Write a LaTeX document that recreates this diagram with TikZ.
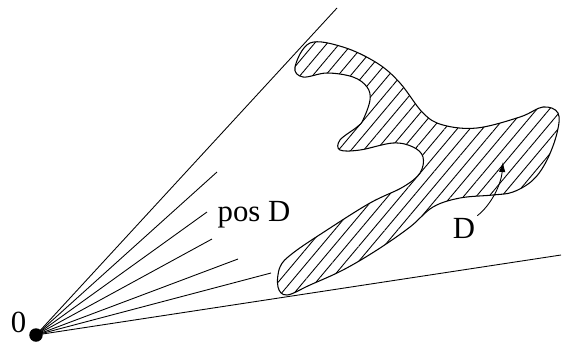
\documentclass[tikz,border=0pt]{standalone}
\usepackage{fontspec}
\setmainfont{Liberation Serif}
\usetikzlibrary{patterns.meta,arrows.meta}

\begin{document}
\begin{tikzpicture}[line width=0.5pt,
    lab/.style={font=\fontsize{17.5}{20}\selectfont, inner sep=1pt}]
    \useasboundingbox (-0.72,-0.16) rectangle (10.54,6.7);

    % Origin
    \coordinate (O) at (0,0);
    \fill (O) circle (0.135);
    \node[lab] (zero) at (-0.35,0.26) {0};

    % Cone boundary
    \coordinate (top) at (6.02,6.54);
    \coordinate (bot) at (10.5,1.6);
    \draw (O) -- (top);
    \draw (O) -- (bot);

    % Rays inside the cone
    \foreach \x/\y in {3.62/3.26, 3.42/2.46, 3.52/1.92, 4.04/1.52, 4.70/1.24}
        \draw (O) -- (\x,\y);

    % Domain D
    \draw[line width=0.6pt, pattern={Lines[angle=50,distance=5.5pt,line width=0.5pt]}]
        plot[smooth cycle, tension=0.6] coordinates {
        (5.18,5.36) (5.48,5.84) (6.14,5.76) (6.82,5.44) (7.28,5.04)
        (7.74,4.44) (8.14,4.2) (8.82,4.14) (9.68,4.36) (10.14,4.56)
        (10.44,4.44) (10.42,4.04) (10.22,3.5) (9.94,3.1) (9.54,2.86)
        (9.14,2.8) (8.48,2.74) (7.94,2.56) (7.48,2.16) (6.82,1.7)
        (6.14,1.3) (5.48,1.0) (5.02,0.8) (4.84,0.96) (4.88,1.36)
        (5.14,1.64) (5.82,2.1) (6.68,2.64) (7.34,2.96) (7.68,3.24)
        (7.74,3.56) (7.54,3.76) (7.14,3.84) (6.48,3.7) (6.08,3.7)
        (6.08,3.9) (6.42,4.16) (6.54,4.3) (6.68,4.7) (6.62,4.96)
        (6.34,5.16) (5.82,5.24) (5.34,5.16)};

    % Labels
    \node[lab] (posD) at (4.36,2.4) {pos D};
    \node[lab] (D) at (8.56,2.14) {D};
    \coordinate (Din) at (9.34,3.46);
    \draw[-{Latex[length=2mm,width=1.3mm]}] (D.north east) .. controls (9.1,2.6) and (9.3,3.0) .. (Din);
\end{tikzpicture}
\end{document}
